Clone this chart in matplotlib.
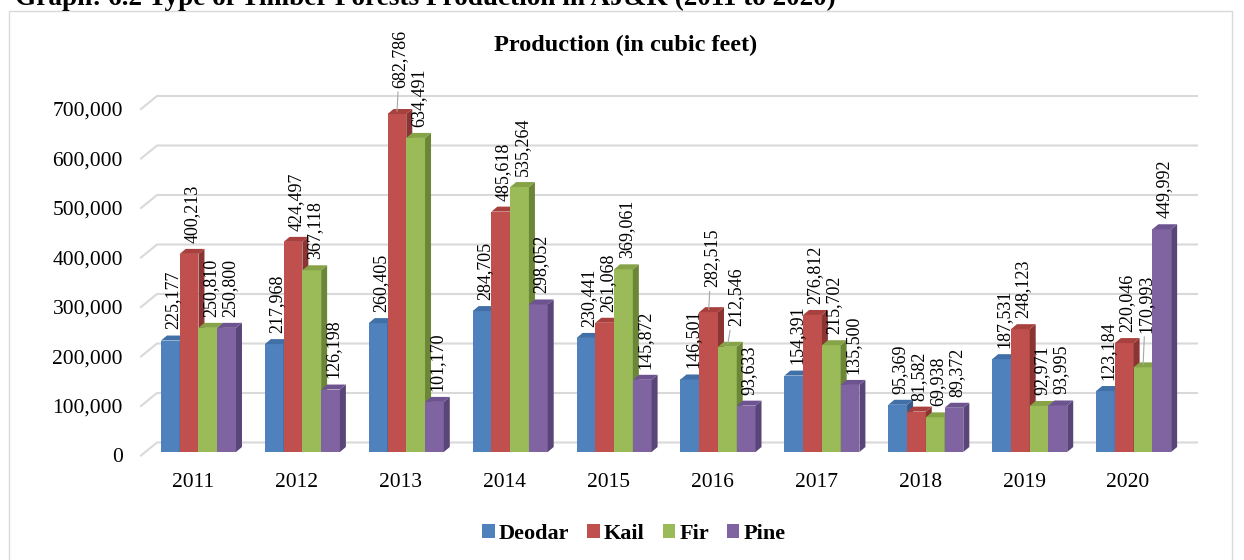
import matplotlib
matplotlib.use("Agg")
import matplotlib.pyplot as plt
from matplotlib.patches import Polygon, Rectangle, Patch
from matplotlib.transforms import IdentityTransform

# ---------------- data ----------------
years = ["2011", "2012", "2013", "2014", "2015", "2016", "2017", "2018", "2019", "2020"]
series_names = ["Deodar", "Kail", "Fir", "Pine"]
deodar = [225177, 217968, 260405, 284705, 230441, 146501, 154391, 95369, 187531, 123184]
kail = [400213, 424497, 682786, 485618, 261068, 282515, 276812, 81582, 248123, 220046]
fir = [250810, 367118, 634491, 535264, 369061, 212546, 215702, 69938, 92971, 170993]
pine = [250800, 126198, 101170, 298052, 145872, 93633, 135500, 89372, 93995, 449992]
y_ticks = [0, 100000, 200000, 300000, 400000, 500000, 600000, 700000]

# ---------------- style ----------------
W, H = 1244, 560
DPI = 100
plt.rcParams['font.family'] = ['Liberation Serif', 'DejaVu Serif']

front_cols = ["#4F81BD", "#C0504D", "#9BBB59", "#8064A2"]
side_cols = ["#37598A", "#8A3533", "#6B8637", "#594578"]
top_cols = ["#4170A8", "#A8403D", "#86A447", "#6D5490"]
DX, DY = 6, 5  # depth of the 3-D effect in pixels
# label adjustments (series index, year index) -> (dx pt, dy pt) with a leader line
leader = {(1, 2): (0, 15), (1, 5): (0, 14), (2, 5): (4, 11), (2, 9): (0, 21)}

fig = plt.figure(figsize=(W / DPI, H / DPI), dpi=DPI)
ax = fig.add_axes([141 / W, (H - 452) / H, (1197 - 141) / W, 346.5 / H])
xlim = (-0.553, 9.61)
ax.set_xlim(*xlim)
ax.set_ylim(0, 700000)
ax.axis('off')

all_series = [deodar, kail, fir, pine]
bw = 0.1805
to_disp = ax.transData.transform

# gridlines on back wall with perspective stub
right_px = to_disp((xlim[1], 0))[0]
for v in y_ticks:
    fx, fy = to_disp((xlim[0], v))
    fy -= 3.5
    bx, by = fx + 16, fy + 13
    ax.add_line(plt.Line2D([fx, bx, right_px], [fy, by, by], transform=IdentityTransform(),
                           color="#D9D9D9", lw=1.5, zorder=1, clip_on=False))
    ax.annotate(f"{v:,}", xy=(xlim[0], v), xytext=(-13, -4.3), textcoords='offset points',
                ha='right', va='center', fontsize=15.5, color='black')

for j, vals in enumerate(all_series):
    xs = [i + (j - 1.5) * bw for i in range(len(years))]
    ax.bar(xs, vals, width=bw, color=front_cols[j], zorder=3 + j * 0.1, linewidth=0)
    for i, (x, v) in enumerate(zip(xs, vals)):
        lx, rx = x - bw / 2, x + bw / 2
        br = to_disp((rx, 0))
        tr = to_disp((rx, v))
        tl = to_disp((lx, v))
        side = Polygon([br, tr, (tr[0] + DX, tr[1] + DY), (br[0] + DX, br[1] + DY)],
                       closed=True, transform=IdentityTransform(), facecolor=side_cols[j],
                       edgecolor='none', zorder=3 + j * 0.1 + 0.05, clip_on=False)
        top = Polygon([tl, tr, (tr[0] + DX, tr[1] + DY), (tl[0] + DX, tl[1] + DY)],
                      closed=True, transform=IdentityTransform(), facecolor=top_cols[j],
                      edgecolor='none', zorder=3 + j * 0.1 + 0.05, clip_on=False)
        ax.add_patch(side)
        ax.add_patch(top)
        if (j, i) in leader:
            ddx, ddy = leader[(j, i)]
            ax.annotate(f"{v:,}", xy=(x, v), xytext=(2 + ddx, 4 + ddy), textcoords='offset points',
                        rotation=90, ha='center', va='bottom', fontsize=13, zorder=10,
                        arrowprops=dict(arrowstyle='-', color='#A6A6A6', lw=0.8,
                                        shrinkA=1, shrinkB=2))
        else:
            ax.annotate(f"{v:,}", xy=(x, v), xytext=(2, 8), textcoords='offset points',
                        rotation=90, ha='center', va='bottom', fontsize=13, zorder=10)

for i, yr in enumerate(years):
    ax.annotate(yr, xy=(i, 0), xytext=(-4, -22), textcoords='offset points',
                ha='center', va='center', fontsize=15.5)

# titles
fig.text(15 / W, 1 - 5 / H, "Graph: 6.2 Type of Timber Forests Production in AJ&K (2011 to 2020)",
         ha='left', va='baseline', fontsize=19.6, fontweight='bold')
fig.text(626 / W, 1 - 45 / H, "Production (in cubic feet)", ha='center', va='center',
         fontsize=17.5, fontweight='bold')

# border
fig.add_artist(Rectangle((9 / W, -0.1), 1223 / W, 1.1 - 11 / H, transform=fig.transFigure,
                         fill=False, edgecolor='#D9D9D9', lw=1))

handles = [Patch(facecolor=c, edgecolor='none') for c in front_cols]
fig.legend(handles, series_names, loc='center', bbox_to_anchor=(634 / W, 1 - 534 / H), ncol=4,
           frameon=False, prop={'weight': 'bold', 'size': 16}, handlelength=0.55,
           handleheight=0.55, handletextpad=0.2, columnspacing=0.8)

fig.savefig("out.png", dpi=DPI)
